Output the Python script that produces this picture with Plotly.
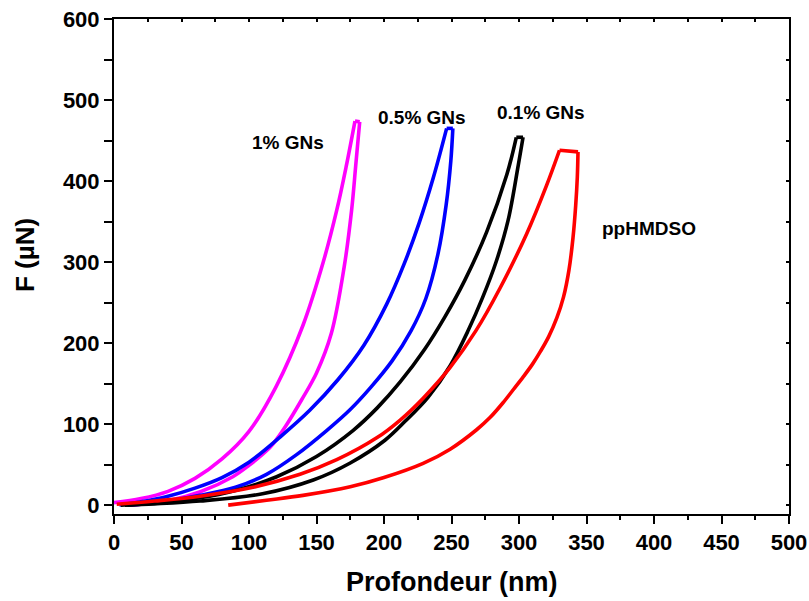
import plotly.graph_objects as go

# ---- data (depth in nm, force in µN) ----
gn1_load_x = [0, 20, 40, 60, 80, 100, 120, 140, 155, 165, 172, 178.5]
gn1_load_y = [3, 8, 17, 33, 57, 91, 146, 222, 300, 364, 418, 474]
gn1_unload_x = [182, 179, 176, 170.5, 161, 150, 139, 127, 118, 113, 100, 88, 64, 39, 12]
gn1_unload_y = [473, 418, 364, 294, 212, 163, 130, 97, 76, 67, 49, 35, 16.5, 5, 0]

gn05_load_x = [4, 20, 40, 60, 80, 100, 123, 145, 166, 185, 202, 215, 226, 236.5, 246.4]
gn05_load_y = [0, 4, 11, 21, 34, 53, 84, 117, 155, 197, 248, 298, 348, 404, 465]
gn05_unload_x = [251, 249.5, 246, 240, 231, 220, 206, 190, 175, 157.5, 135, 113, 90, 63.7, 35, 10]
gn05_unload_y = [465, 425, 370, 310, 255, 215, 178, 145, 118, 92, 62, 38, 22, 12, 4, 0]

gn01_load_x = [5, 30, 63.7, 90, 120.5, 150, 177, 195, 212, 230, 245, 260, 276, 291, 298]
gn01_load_y = [0, 3, 9, 18, 35, 60, 92, 120, 152, 192, 232, 278, 337, 408, 454]
gn01_unload_x = [303, 299.5, 292, 283, 273, 262.5, 249, 232.6, 216, 200.7, 175, 147.6, 110, 63.7, 30, 8]
gn01_unload_y = [454, 420, 352, 300, 256, 216, 172, 133, 104, 80, 52, 31, 14, 5, 1.5, 0]

pp_load_x = [2, 30, 63.7, 103, 137.8, 165, 194.6, 212, 229, 249, 268, 286, 305.7, 320.5, 330]
pp_load_y = [1, 5, 11, 22, 38, 56, 83, 105, 132, 170, 215, 268, 335, 395, 438]
pp_unload_x = [343.7, 343.2, 342, 340, 337, 333, 328, 322, 316, 310, 303, 296, 288, 278.5, 268.6, 249, 229, 200, 175, 140, 113, 84.6]
pp_unload_y = [436, 405, 370, 330, 290, 257, 231, 208, 190, 174, 158, 143, 126, 108, 93, 69, 51.5, 34, 22.6, 12, 6, 0]

sample_names = ["1% GNs", "0.5% GNs", "0.1% GNs", "ppHMDSO"]
label_x = [129, 228, 316, 396]
label_y = [447, 479, 484, 341]

x_ticks = [0, 50, 100, 150, 200, 250, 300, 350, 400, 450, 500]
y_ticks = [0, 100, 200, 300, 400, 500, 600]

series = [
    (gn1_load_x, gn1_load_y, gn1_unload_x, gn1_unload_y, "#FF00FF"),
    (gn05_load_x, gn05_load_y, gn05_unload_x, gn05_unload_y, "#0000FF"),
    (gn01_load_x, gn01_load_y, gn01_unload_x, gn01_unload_y, "#000000"),
    (pp_load_x, pp_load_y, pp_unload_x, pp_unload_y, "#FF0000"),
]

fig = go.Figure()
LW = 3.6
for (lx, ly, ux, uy, col), name in zip(series, sample_names):
    fig.add_trace(go.Scatter(x=lx, y=ly, mode="lines", line=dict(color=col, width=LW, shape="spline", smoothing=1.0), showlegend=False, name=name))
    fig.add_trace(go.Scatter(x=[lx[-1], ux[0]], y=[ly[-1], uy[0]], mode="lines", line=dict(color=col, width=LW), showlegend=False, name=name))
    fig.add_trace(go.Scatter(x=ux, y=uy, mode="lines", line=dict(color=col, width=LW, shape="spline", smoothing=1.0), showlegend=False, name=name))

# invisible trace so the mirrored top/right axes (inside ticks) get drawn
fig.add_trace(go.Scatter(x=[None], y=[None], xaxis="x2", yaxis="y2", mode="lines",
                         showlegend=False, hoverinfo="skip"))

FONT = "Liberation Sans, Arial, sans-serif"
for name, lxp, lyp in zip(sample_names, label_x, label_y):
    fig.add_annotation(x=lxp, y=lyp, text="<b>%s</b>" % name, showarrow=False,
                       font=dict(family=FONT, size=19, color="black"))

# axis titles
fig.add_annotation(xref="paper", yref="paper", x=0.5, y=-0.137, text="<b>Profondeur (nm)</b>",
                   showarrow=False, xanchor="center", yanchor="middle",
                   font=dict(family=FONT, size=27, color="black"))
fig.add_annotation(xref="paper", yref="paper", x=-0.132, y=0.523, text="<b>F (µN)</b>", textangle=-90,
                   showarrow=False, xanchor="center", yanchor="middle",
                   font=dict(family=FONT, size=26, color="black"))

axis_common = dict(
    showgrid=False, zeroline=False, showline=True, linecolor="black", linewidth=2,
    mirror=True, ticks="outside", ticklen=8, tickwidth=2, tickcolor="black",
    tickfont=dict(family=FONT, size=22, color="black"), automargin=False,
)
fig.update_layout(
    xaxis=dict(range=[0, 500], tickvals=x_ticks, ticktext=["<b>%d</b>" % v for v in x_ticks],
               minor=dict(ticks="outside", ticklen=4, tickwidth=2, tickcolor="black", dtick=25, tick0=0),
               **axis_common),
    yaxis=dict(range=[-11, 600], tickvals=y_ticks, ticktext=["<b>%d</b>" % v for v in y_ticks],
               minor=dict(ticks="outside", ticklen=8, tickwidth=2, tickcolor="black", dtick=50, tick0=0),
               **axis_common),
    xaxis2=dict(range=[0, 500], overlaying="x", side="top", anchor="y2", tickvals=x_ticks,
                showticklabels=False, ticks="inside", ticklen=3, tickwidth=1.5, tickcolor="black",
                minor=dict(ticks="inside", ticklen=3, tickwidth=1.5, tickcolor="black", dtick=25, tick0=0),
                showgrid=False, zeroline=False, showline=False, automargin=False),
    yaxis2=dict(range=[-11, 600], overlaying="y", side="right", anchor="x2", tickvals=y_ticks,
                showticklabels=False, ticks="inside", ticklen=3, tickwidth=1.5, tickcolor="black",
                minor=dict(ticks="inside", ticklen=3, tickwidth=1.5, tickcolor="black", dtick=50, tick0=0),
                showgrid=False, zeroline=False, showline=False, automargin=False),
)

fig.update_layout(width=809, height=601, margin=dict(l=114, r=20, t=19, b=87),
                  plot_bgcolor="white", paper_bgcolor="white", showlegend=False)

fig.write_html("out.html", config={"displayModeBar": False},
               post_script="document.body.style.margin='0';document.body.style.overflow='hidden';")
